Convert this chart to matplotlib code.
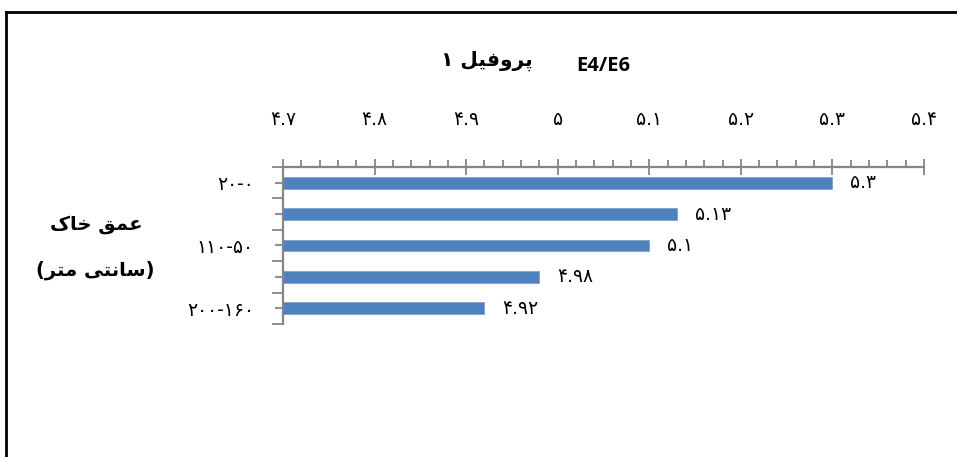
import matplotlib
matplotlib.use("Agg")
import matplotlib.pyplot as plt
from matplotlib.lines import Line2D
from matplotlib.ticker import FixedLocator, MultipleLocator, FuncFormatter

# depth classes (cm), top to bottom; Excel only printed every other label
depths = ["۲۰-۰", "۵۰-۲۰", "۱۱۰-۵۰", "۱۶۰-۱۱۰", "۲۰۰-۱۶۰"]
e4e6 = [5.3, 5.13, 5.1, 4.98, 4.92]
xticks = [4.7, 4.8, 4.9, 5.0, 5.1, 5.2, 5.3, 5.4]

# Arabic script pre-shaped in visual order (matplotlib does no bidi/shaping)
title_fa = "۱ \uFEDE\uFBFF\uFED3\uFEED\uFEAE\uFB58"          # پروفیل ۱
ylab_1 = "\uFB8E\uFE8E\uFEA7 \uFED6\uFEE4\uFECB"               # عمق خاک
ylab_2 = "(\uFEAE\uFE98\uFEE3 \uFBFD\uFE98\uFEE7\uFE8E\uFEB3)"  # (سانتی متر)

FA = str.maketrans("0123456789", "۰۱۲۳۴۵۶۷۸۹")


def fa_num(v):
    s = ("%.2f" % v).rstrip("0").rstrip(".")
    return s.translate(FA)


bar_color = "#4F81BD"
axis_color = "#868686"

fig = plt.figure(figsize=(9.57, 4.57), dpi=100)
ax = fig.add_axes([283 / 957, 1 - 324 / 457, (924 - 283) / 957, (324 - 167) / 457])

ypos = list(range(len(depths)))
ax.barh(ypos, e4e6, left=0, height=0.38, color=bar_color,
        edgecolor="#7da3d3", linewidth=0.6, zorder=2)

for y, v in zip(ypos, e4e6):
    ax.annotate(fa_num(v), (v, y), xytext=(13, 0), textcoords="offset points",
                ha="left", va="center", fontsize=13.5, family="DejaVu Sans")

ax.set_xlim(4.7, 5.4)
ax.set_ylim(len(depths) - 0.5, -0.5)

# x axis on top
ax.xaxis.tick_top()
ax.xaxis.set_major_locator(FixedLocator(xticks))
ax.xaxis.set_minor_locator(MultipleLocator(0.02))
ax.xaxis.set_major_formatter(FuncFormatter(lambda v, p: fa_num(v)))
ax.tick_params(axis="x", which="major", direction="inout", length=11, width=1.3,
               color=axis_color, pad=22, labelsize=13.5)
ax.tick_params(axis="x", which="minor", direction="out", length=5, width=1.3,
               color=axis_color, top=True, bottom=False)

# y axis: long ticks on category borders, short ticks on centres
ax.yaxis.set_major_locator(FixedLocator([i - 0.5 for i in range(len(depths) + 1)]))
ax.yaxis.set_minor_locator(FixedLocator(ypos))
ax.yaxis.set_major_formatter(FuncFormatter(lambda v, p: ""))
ax.yaxis.set_minor_formatter(FuncFormatter(
    lambda v, p: depths[int(round(v))] if int(round(v)) % 2 == 0 else ""))
ax.tick_params(axis="y", which="major", direction="out", length=8, width=1.3,
               color=axis_color)
ax.tick_params(axis="y", which="minor", direction="out", length=6, width=1.3,
               color=axis_color, pad=15, labelsize=13.5)

for side in ["right", "bottom"]:
    ax.spines[side].set_visible(False)
for side in ["top", "left"]:
    ax.spines[side].set_color(axis_color)
    ax.spines[side].set_linewidth(1.6)

# titles and axis label
fig.text(487 / 957, 1 - 61 / 457, title_fa, ha="center", va="center",
         fontsize=14.5, fontweight="bold", family="DejaVu Sans")
fig.text(603 / 957, 1 - 66 / 457, "E4/E6", ha="center", va="center",
         fontsize=14.5, fontweight="bold", family=["Open Sans", "DejaVu Sans"])
fig.text(96 / 957, 1 - 225 / 457, ylab_1, ha="center", va="center",
         fontsize=14, fontweight="bold", family="DejaVu Sans")
fig.text(95 / 957, 1 - 270 / 457, ylab_2, ha="center", va="center",
         fontsize=14, fontweight="bold", family="DejaVu Sans")

# chart area border (cropped at right and bottom)
fig.add_artist(Line2D([6 / 957, 6 / 957], [0, 1 - 12 / 457], color="black",
                      linewidth=2, transform=fig.transFigure))
fig.add_artist(Line2D([6 / 957, 1], [1 - 12 / 457, 1 - 12 / 457], color="black",
                      linewidth=2, transform=fig.transFigure))

fig.savefig("out.png", dpi=100)
